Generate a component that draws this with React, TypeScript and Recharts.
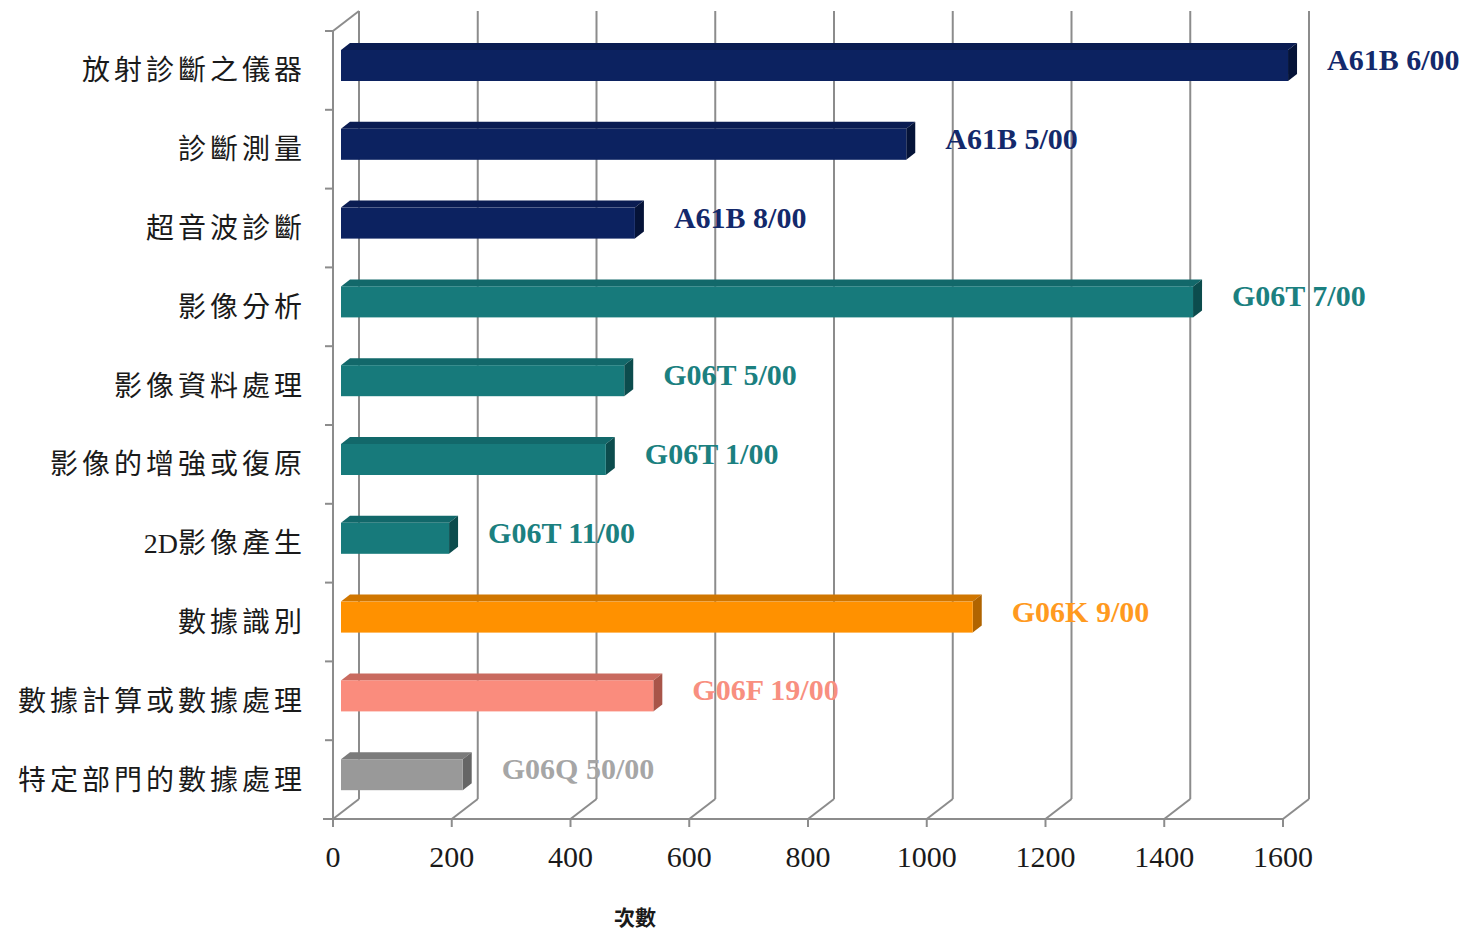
import { BarChart, Bar, XAxis, YAxis, CartesianGrid, LabelList, Label } from 'recharts';

const CATEGORIES = [
  '放射診斷之儀器',
  '診斷測量',
  '超音波診斷',
  '影像分析',
  '影像資料處理',
  '影像的增強或復原',
  '2D影像產生',
  '數據識別',
  '數據計算或數據處理',
  '特定部門的數據處理',
];
const COUNTS = [1595, 952, 495, 1435, 477, 446, 182, 1064, 526, 205];
const CODES = [
  'A61B 6/00',
  'A61B 5/00',
  'A61B 8/00',
  'G06T 7/00',
  'G06T 5/00',
  'G06T 1/00',
  'G06T 11/00',
  'G06K 9/00',
  'G06F 19/00',
  'G06Q 50/00',
];
const GROUPS = ['A61B', 'A61B', 'A61B', 'G06T', 'G06T', 'G06T', 'G06T', 'G06K', 'G06F', 'G06Q'];
const X_TICKS = [0, 200, 400, 600, 800, 1000, 1200, 1400, 1600];

const PALETTE: Record<string, { front: string; top: string; side: string; text: string }> = {
  A61B: { front: '#0c2260', top: '#0a1c52', side: '#051338', text: '#13296b' },
  G06T: { front: '#177a7b', top: '#12686a', side: '#0c4c4d', text: '#1b8080' },
  G06K: { front: '#ff9100', top: '#d07600', side: '#b06400', text: '#ff9a1f' },
  G06F: { front: '#fa8c7d', top: '#c96a5f', side: '#a85549', text: '#f88f80' },
  G06Q: { front: '#999999', top: '#7b7b7b', side: '#666666', text: '#a6a6a6' },
};

const W = 1467;
const H = 932;
const MARGIN = { top: 31, right: 184, bottom: 0, left: 0 };
const Y_AXIS_W = 333;
const X_AXIS_H = 113;
const BAND = (H - MARGIN.top - X_AXIS_H) / CATEGORIES.length;
const WALL = { dx: 26, dy: -20 }; // back wall offset
const FACE = { dx: 8, dy: -5 }; // bar front face offset
const DEPTH = { dx: 9, dy: -7 }; // bar depth
const GRID = '#8c8c8c';
const SERIF = "'Liberation Serif', 'Times New Roman', serif";
const CJK = "'Liberation Serif', 'Noto Sans CJK TC', serif";

const data = CATEGORIES.map((name, i) => ({ name, count: COUNTS[i], code: CODES[i], group: GROUPS[i] }));

function Bar3D(props: any) {
  const { x, y, width, height, index } = props;
  const c = PALETTE[GROUPS[index]];
  const fx = x + FACE.dx;
  const fy = y + FACE.dy;
  const rx = fx + width;
  return (
    <g>
      <polygon
        points={`${fx},${fy} ${rx},${fy} ${rx + DEPTH.dx},${fy + DEPTH.dy} ${fx + DEPTH.dx},${fy + DEPTH.dy}`}
        fill={c.top}
      />
      <polygon
        points={`${rx},${fy} ${rx + DEPTH.dx},${fy + DEPTH.dy} ${rx + DEPTH.dx},${fy + DEPTH.dy + height} ${rx},${fy + height}`}
        fill={c.side}
      />
      <rect x={fx} y={fy} width={width} height={height} fill={c.front} />
    </g>
  );
}

function CodeLabel(props: any) {
  const vb = props.viewBox ?? props;
  const { x, y, width, height } = vb;
  const c = PALETTE[GROUPS[props.index]];
  const lx = x + FACE.dx + width + DEPTH.dx + 30;
  const ly = y + FACE.dy + height / 2 - 6;
  return (
    <text
      x={lx}
      y={ly}
      dominantBaseline="central"
      fontFamily={SERIF}
      fontSize={30}
      fontWeight="bold"
      fill={c.text}
    >
      {props.value}
    </text>
  );
}

function gridLine(p: any) {
  const { x1, y1, y2, index } = p;
  return (
    <g key={`grid-${index}`}>
      <line x1={x1} y1={y2} x2={x1 + WALL.dx} y2={y2 + WALL.dy} stroke={GRID} strokeWidth={2} />
      <line x1={x1 + WALL.dx} y1={y1 + WALL.dy} x2={x1 + WALL.dx} y2={y2 + WALL.dy} stroke={GRID} strokeWidth={2} />
      {index === 0 && (
        <line x1={x1} y1={y1} x2={x1 + WALL.dx} y2={y1 + WALL.dy} stroke={GRID} strokeWidth={2} />
      )}
    </g>
  );
}

function CategoryTick(p: any) {
  const { x, y, payload, index } = p;
  const top = y - BAND / 2;
  // latin runs (e.g. "2D") stay tight, CJK glyphs get extra spacing
  const parts = String(payload.value).match(/[\x00-\x7f]+|[^\x00-\x7f]+/g) ?? [];
  return (
    <g>
      <line x1={x - 8} y1={top} x2={x} y2={top} stroke={GRID} strokeWidth={2} />
      {index === CATEGORIES.length - 1 && (
        <line x1={x - 10} y1={y + BAND / 2} x2={x} y2={y + BAND / 2} stroke={GRID} strokeWidth={2} />
      )}
      <text
        x={x - 27}
        y={y}
        textAnchor="end"
        dominantBaseline="central"
        fontFamily={CJK}
        fontSize={28}
        fill="#1a1a1a"
      >
        {parts.map((s, i) => (
          <tspan key={i} letterSpacing={/^[\x00-\x7f]+$/.test(s) ? 0 : 4}>
            {s}
          </tspan>
        ))}
      </text>
    </g>
  );
}

function ValueTick(p: any) {
  const { x, y, payload } = p;
  return (
    <text x={x} y={y + 25} textAnchor="middle" dominantBaseline="central" fontFamily={SERIF} fontSize={30} fill="#1a1a1a">
      {payload.value}
    </text>
  );
}

function AxisTitle(p: any) {
  const vb = p.viewBox;
  return (
    <text
      x={vb.x + 302}
      y={vb.y + 97}
      textAnchor="middle"
      dominantBaseline="central"
      fontFamily="'Noto Sans CJK TC', sans-serif"
      fontSize={21}
      fontWeight="bold"
      fill="#1a1a1a"
    >
      次數
    </text>
  );
}

export default function App() {
  return (
    <div style={{ width: W, height: H, background: '#fff' }}>
      <style>{'body{margin:0}'}</style>
      <BarChart width={W} height={H} data={data} layout="vertical" margin={MARGIN}>
        <CartesianGrid horizontal={false} vertical={gridLine} />
        <XAxis
          type="number"
          domain={[0, 1600]}
          ticks={X_TICKS}
          interval={0}
          height={X_AXIS_H}
          tickSize={8}
          tickMargin={4}
          axisLine={{ stroke: GRID, strokeWidth: 2 }}
          tickLine={{ stroke: GRID, strokeWidth: 2 }}
          tick={ValueTick}
          label={<Label content={AxisTitle} />}
        />
        <YAxis
          type="category"
          dataKey="name"
          width={Y_AXIS_W}
          interval={0}
          tickSize={0}
          tickMargin={0}
          tickLine={false}
          axisLine={{ stroke: GRID, strokeWidth: 2 }}
          tick={CategoryTick}
        />
        <Bar dataKey="count" barSize={31} shape={Bar3D} isAnimationActive={false}>
          <LabelList dataKey="code" content={CodeLabel} />
        </Bar>
      </BarChart>
    </div>
  );
}
